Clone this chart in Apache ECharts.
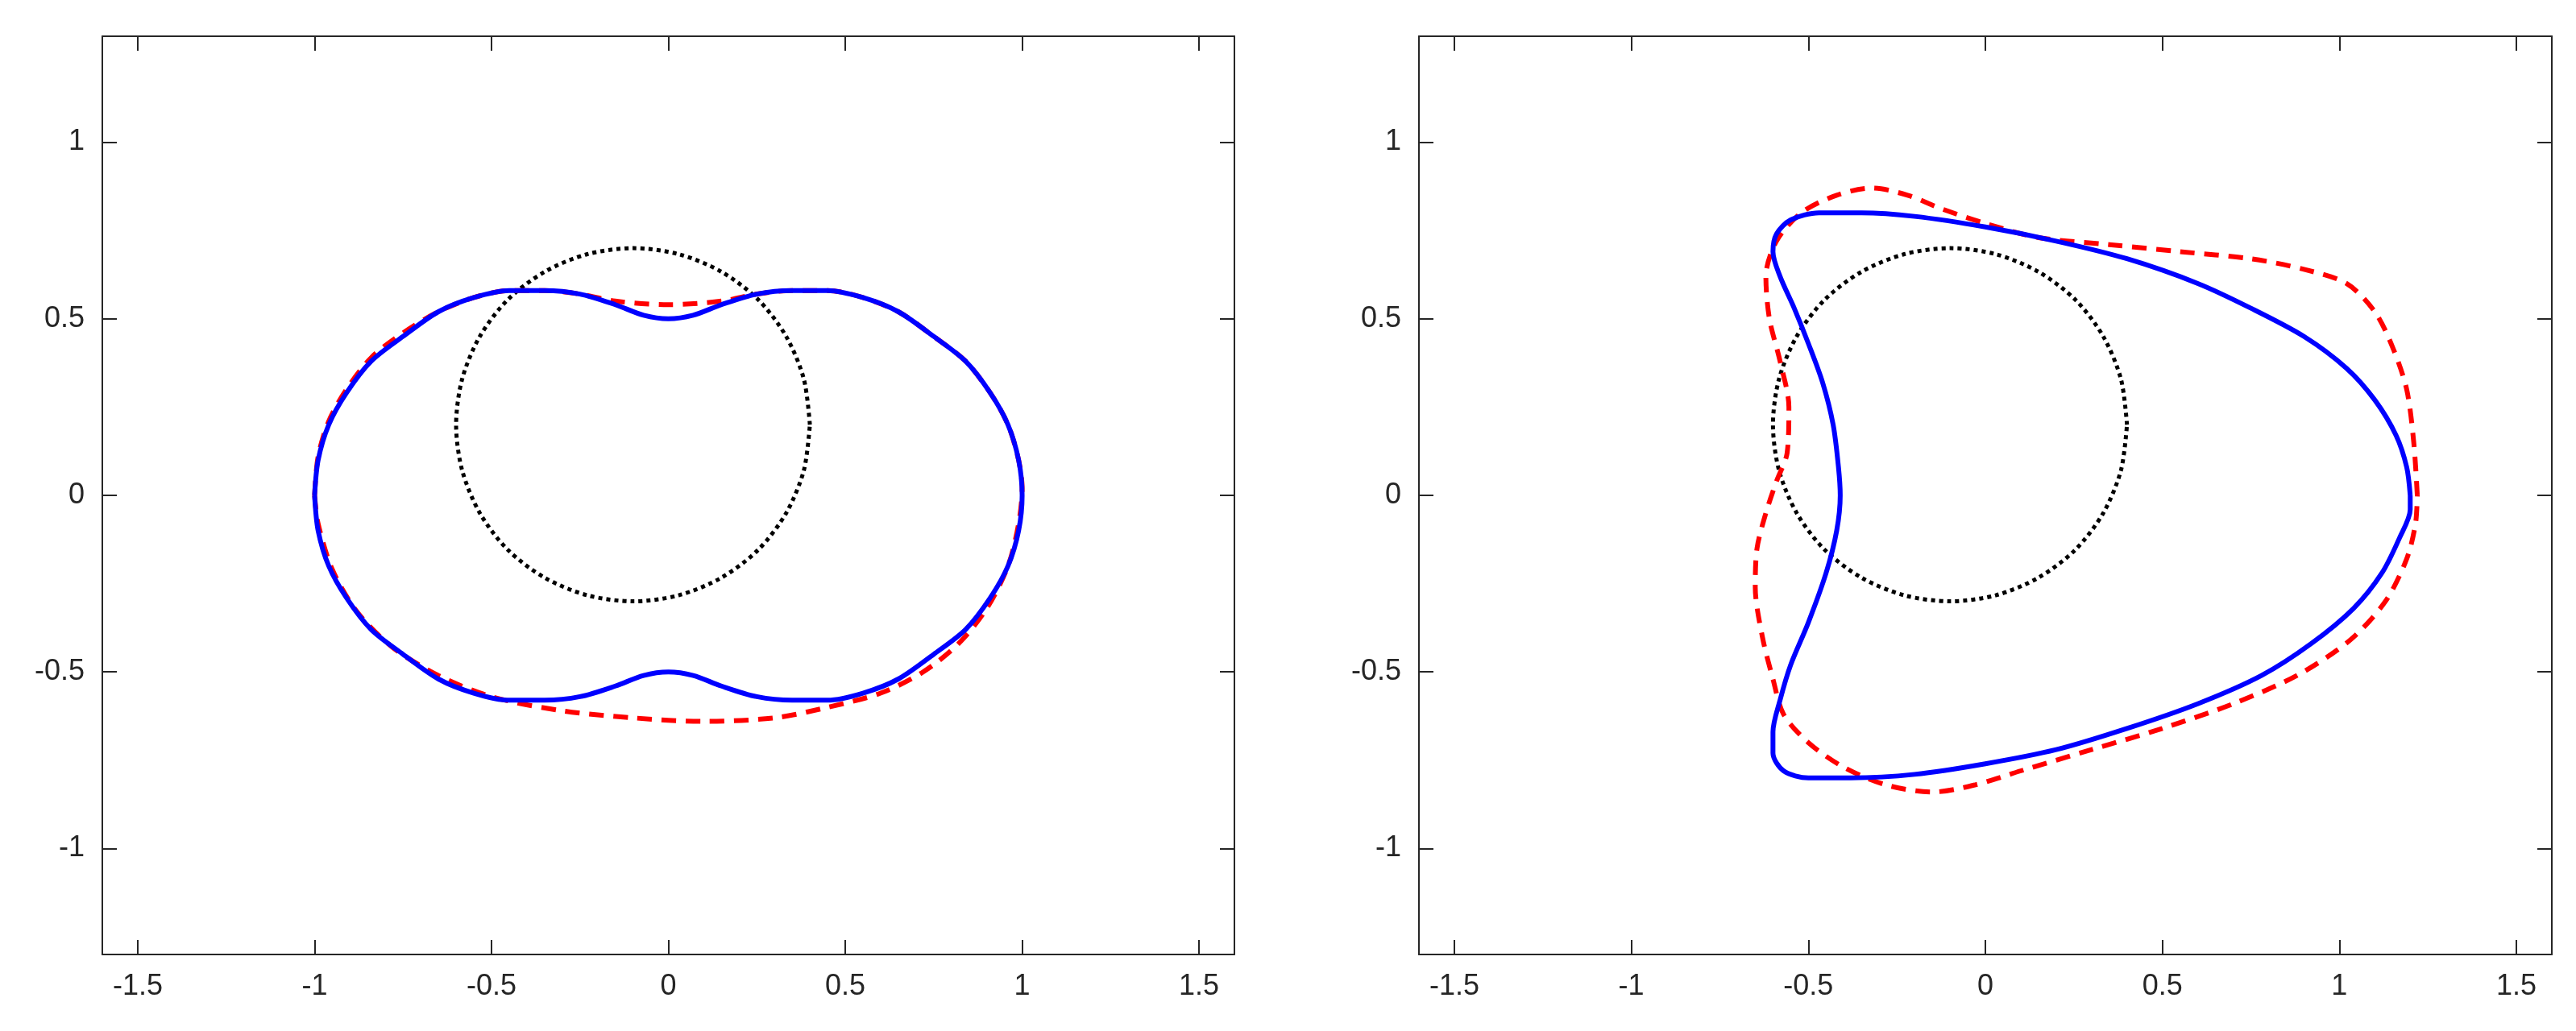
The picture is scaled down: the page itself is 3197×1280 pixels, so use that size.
<!DOCTYPE html><html><head><meta charset="utf-8"><script src="https://cdn.jsdelivr.net/npm/echarts@6/dist/echarts.min.js"></script>
<style>html,body{margin:0;background:#fff}#c{width:3197px;height:1280px}</style></head><body><div id="c"></div><script>
const circle=[[0.4,0.2],[0.383,0.329],[0.333,0.45],[0.254,0.554],[0.15,0.633],[0.029,0.683],[-0.1,0.7],[-0.229,0.683],[-0.35,0.633],[-0.454,0.554],[-0.533,0.45],[-0.583,0.329],[-0.6,0.2],[-0.583,0.071],[-0.533,-0.05],[-0.454,-0.154],[-0.35,-0.233],[-0.229,-0.283],[-0.1,-0.3],[0.029,-0.283],[0.15,-0.233],[0.254,-0.154],[0.333,-0.05],[0.383,0.071],[0.4,0.2]];
const leftBlue=[[-1,0],[-0.99,0.1],[-0.96,0.2],[-0.91,0.29],[-0.84,0.38],[-0.75,0.45],[-0.65,0.52],[-0.55,0.56],[-0.45,0.58],[-0.35,0.58],[-0.25,0.57],[-0.15,0.54],[-0.07,0.51],[0,0.5],[0.07,0.51],[0.15,0.54],[0.25,0.57],[0.35,0.58],[0.45,0.58],[0.55,0.56],[0.65,0.52],[0.75,0.45],[0.84,0.38],[0.91,0.29],[0.96,0.2],[0.99,0.1],[1,0],
 [0.99,-0.1],[0.96,-0.2],[0.91,-0.29],[0.84,-0.38],[0.75,-0.45],[0.65,-0.52],[0.55,-0.56],[0.45,-0.58],[0.35,-0.58],[0.25,-0.57],[0.15,-0.54],[0.07,-0.51],[0,-0.5],[-0.07,-0.51],[-0.15,-0.54],[-0.25,-0.57],[-0.35,-0.58],[-0.45,-0.58],[-0.55,-0.56],[-0.65,-0.52],[-0.75,-0.45],[-0.84,-0.38],[-0.91,-0.29],[-0.96,-0.2],[-0.99,-0.1],[-1,0]];
const leftRed=[[-1,0],[-0.99,0.11],[-0.96,0.21],[-0.91,0.3],[-0.84,0.39],[-0.75,0.46],[-0.65,0.52],[-0.55,0.56],[-0.45,0.58],[-0.35,0.58],[-0.25,0.57],[-0.15,0.55],[0,0.54],[0.15,0.55],[0.25,0.57],[0.35,0.58],[0.45,0.58],[0.55,0.56],[0.65,0.52],[0.75,0.45],[0.84,0.38],[0.91,0.29],[0.96,0.2],[0.99,0.1],[1,0.02],
 [0.99,-0.08],[0.96,-0.2],[0.9,-0.32],[0.82,-0.42],[0.72,-0.5],[0.6,-0.56],[0.45,-0.6],[0.3,-0.63],[0.1,-0.64],[-0.1,-0.63],[-0.3,-0.61],[-0.5,-0.57],[-0.65,-0.51],[-0.78,-0.43],[-0.88,-0.33],[-0.95,-0.21],[-0.99,-0.08],[-1,0]];
const rightBlue=[[1.2,0],[1.19,0.08],[1.16,0.17],[1.1,0.27],[1.02,0.36],[0.9,0.45],[0.75,0.53],[0.6,0.6],[0.4,0.67],[0.2,0.72],[0,0.76],[-0.2,0.79],[-0.35,0.8],[-0.47,0.8],[-0.55,0.78],[-0.59,0.74],[-0.6,0.69],[-0.58,0.62],[-0.54,0.53],[-0.5,0.43],[-0.46,0.32],[-0.43,0.2],[-0.415,0.08],[-0.41,0],[-0.42,-0.1],[-0.45,-0.22],[-0.5,-0.36],[-0.55,-0.48],[-0.58,-0.58],[-0.6,-0.67],[-0.6,-0.73],[-0.57,-0.78],[-0.5,-0.8],[-0.38,-0.8],[-0.2,-0.79],[0,-0.76],[0.2,-0.72],[0.4,-0.66],[0.6,-0.59],[0.78,-0.51],[0.92,-0.42],[1.04,-0.32],[1.12,-0.22],[1.17,-0.12],[1.2,-0.04],[1.2,0]];
const rightRed=[[1.22,0],[1.21,0.15],[1.19,0.3],[1.15,0.42],[1.1,0.52],[1.02,0.6],[0.9,0.64],[0.75,0.67],[0.55,0.69],[0.35,0.71],[0.15,0.73],[0,0.77],[-0.12,0.81],[-0.22,0.85],[-0.32,0.87],[-0.42,0.85],[-0.52,0.8],[-0.59,0.72],[-0.62,0.62],[-0.61,0.5],[-0.58,0.38],[-0.555,0.25],[-0.56,0.12],[-0.59,0.04],[-0.62,-0.05],[-0.645,-0.15],[-0.65,-0.26],[-0.63,-0.4],[-0.6,-0.52],[-0.57,-0.62],[-0.5,-0.7],[-0.4,-0.77],[-0.28,-0.82],[-0.15,-0.84],[-0.03,-0.82],[0.1,-0.78],[0.3,-0.72],[0.5,-0.66],[0.7,-0.59],[0.88,-0.51],[1.03,-0.41],[1.13,-0.3],[1.19,-0.18],[1.215,-0.08],[1.22,0]];
const xTicks=[-1.5,-1,-0.5,0,0.5,1,1.5];
const yTicks=[-1,-0.5,0,0.5,1];
const font={fontFamily:'Liberation Sans',fontSize:36,color:'#262626'};
const ax={lineStyle:{color:'#262626',width:2}};
function xa(g,pos,show){return {type:'value',gridIndex:g,position:pos,min:-1.6,max:1.6,
 axisLine:{show:true,onZero:false,...ax},axisTick:{show:true,inside:true,length:18,customValues:xTicks,...ax},
 axisLabel:{show:show,...font,margin:22,customValues:xTicks,formatter:v=>String(v)},splitLine:{show:false}};}
function ya(g,pos,show){return {type:'value',gridIndex:g,position:pos,min:-1.3,max:1.3,
 axisLine:{show:true,onZero:false,...ax},axisTick:{show:true,inside:true,length:18,customValues:yTicks,...ax},
 axisLabel:{show:show,...font,margin:22,customValues:yTicks,formatter:v=>String(v)},splitLine:{show:false}};}
function s(data,xi,yi,color,type,w){return {type:'line',data:data,xAxisIndex:xi,yAxisIndex:yi,smooth:0.3,showSymbol:false,symbol:'none',animation:false,lineStyle:{color:color,type:type,width:w}};}
const chart=echarts.init(document.getElementById('c'));
chart.setOption({animation:false,
 grid:[{left:127,top:45,width:1405,height:1140},{left:1761,top:45,width:1406,height:1140}],
 xAxis:[xa(0,'bottom',true),xa(0,'top',false),xa(1,'bottom',true),xa(1,'top',false)],
 yAxis:[ya(0,'left',true),ya(0,'right',false),ya(1,'left',true),ya(1,'right',false)],
 series:[s(circle,0,0,'#000','dotted',5),s(leftRed,0,0,'#ff0000',[18,12],6),s(leftBlue,0,0,'#0000ff','solid',6),
  s(circle,2,2,'#000','dotted',5),s(rightRed,2,2,'#ff0000',[18,12],6),s(rightBlue,2,2,'#0000ff','solid',6)]});
</script></body></html>
